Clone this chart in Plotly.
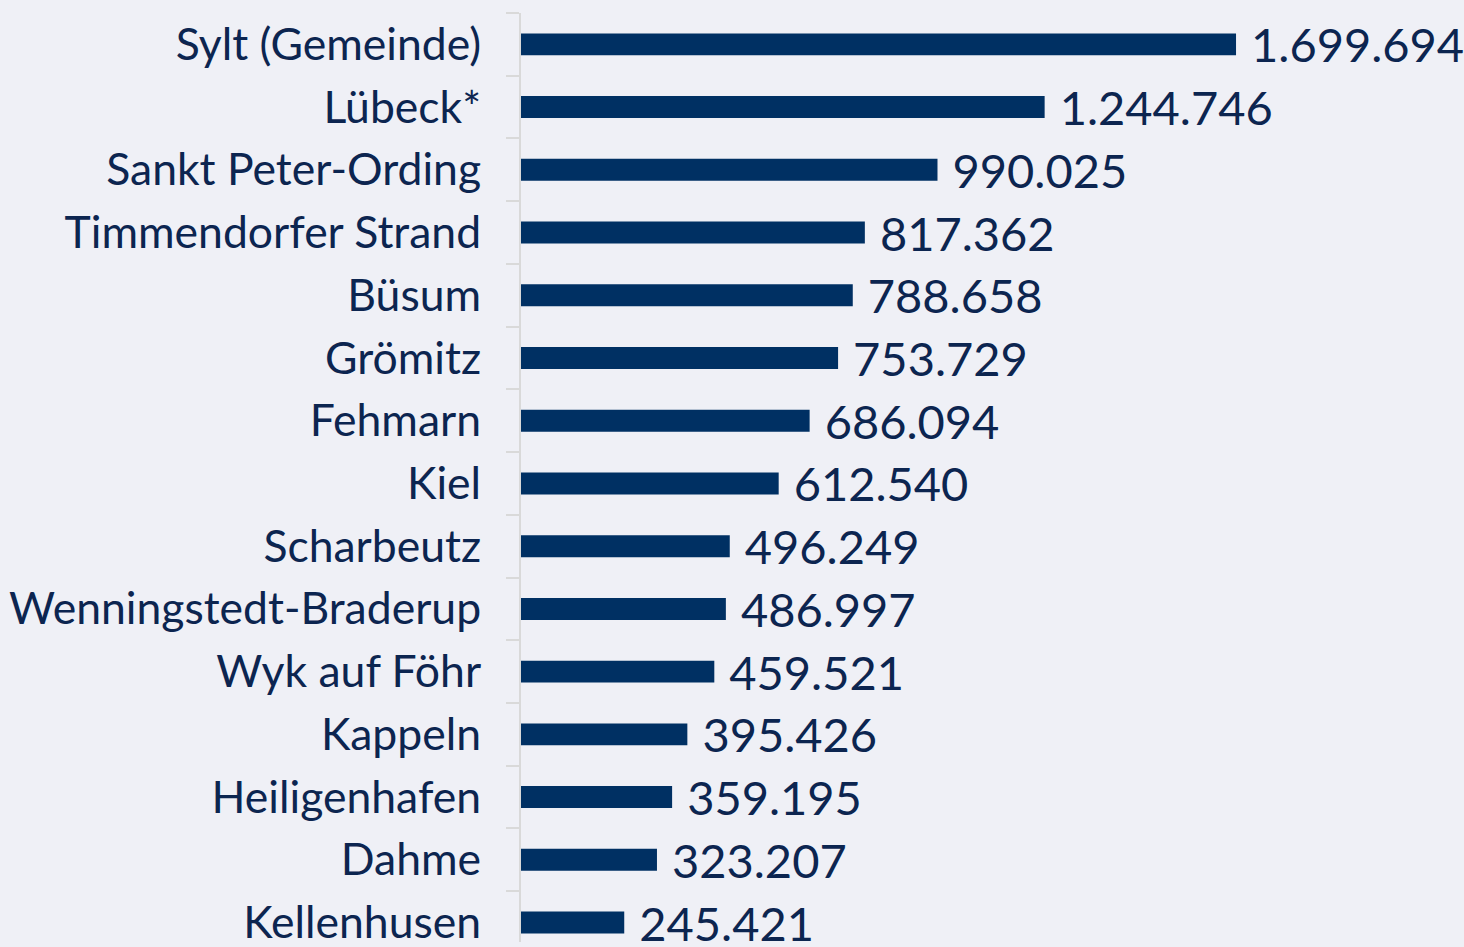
import plotly.graph_objects as go

categories = ["Sylt (Gemeinde)", "Lübeck*", "Sankt Peter-Ording", "Timmendorfer Strand",
              "Büsum", "Grömitz", "Fehmarn", "Kiel", "Scharbeutz", "Wenningstedt-Braderup",
              "Wyk auf Föhr", "Kappeln", "Heiligenhafen", "Dahme", "Kellenhusen"]
values = [1699694, 1244746, 990025, 817362, 788658, 753729, 686094, 612540, 496249,
          486997, 459521, 395426, 359195, 323207, 245421]
labels = ["\u00a0" + f"{v:,}".replace(",", ".") for v in values]

BG = "#eff0f6"
BAR = "#003063"
TXT = "#0c2550"

fig = go.Figure(go.Bar(
    y=categories, x=values, orientation="h",
    marker=dict(color=BAR, line=dict(width=0)),
    text=labels, textposition="outside", cliponaxis=False, constraintext="none",
    textfont=dict(family="Lato", size=47, color=TXT),
    width=0.35,
))

fig.update_layout(
    width=1464, height=947,
    margin=dict(l=521, r=0, t=13, b=0),
    paper_bgcolor=BG, plot_bgcolor=BG,
    showlegend=False,
    font=dict(family="Lato", color=TXT),
    xaxis=dict(visible=False, range=[0, 2241600]),
    yaxis=dict(
        range=[14.31, -0.5],
        showline=True, linecolor="#d9d9d9", linewidth=2,
        ticks="outside", tickson="boundaries", ticklen=13, tickcolor="#d9d9d9", tickwidth=2,
        showgrid=False, zeroline=False,
        tickfont=dict(family="Lato", size=44.5, color=TXT),
        ticklabelstandoff=29,
    ),
)

fig.write_html("out.html", config={"displayModeBar": False},
               post_script="document.body.style.margin='0';document.body.style.overflow='hidden';document.body.style.background='" + BG + "';")
